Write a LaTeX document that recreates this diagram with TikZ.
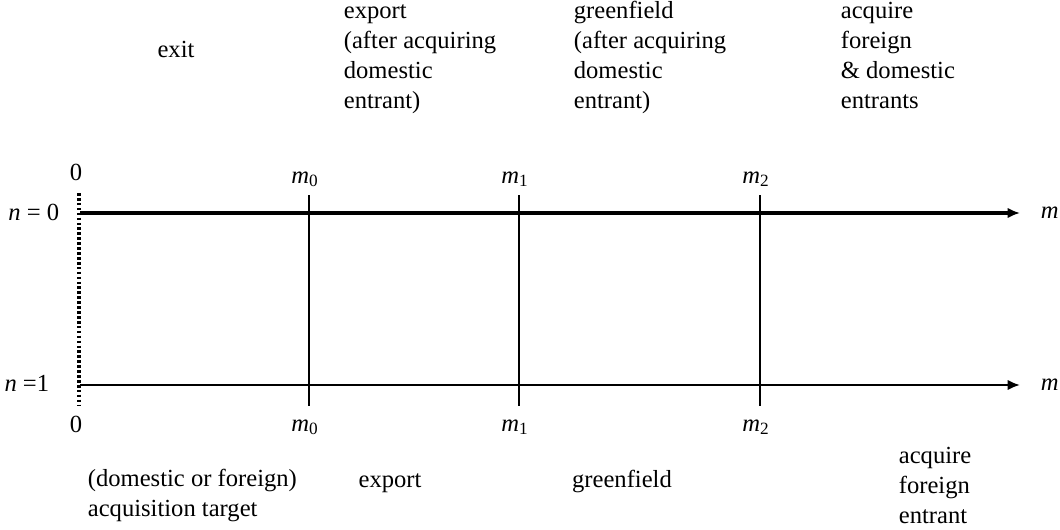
\documentclass[tikz,border=0pt]{standalone}
\usepackage{fontspec}
\setmainfont{Liberation Serif}
\usetikzlibrary{arrows.meta}
\tikzset{
  lab/.style={font=\fontsize{14}{17}\selectfont,inner sep=0pt},
  blk/.style={lab,align=left,anchor=base west},
  tip/.style={-{Latex[length=7pt,width=6pt]}}
}
\begin{document}
\begin{tikzpicture}[x=0.02cm,y=-0.02cm,line width=1pt]
  \useasboundingbox (0,0) rectangle (1060,529);
  % axes for n=0 and n=1
  \coordinate (a0) at (80,213); \coordinate (z0) at (1020,213);
  \coordinate (a1) at (80,385); \coordinate (z1) at (1020,385);
  \coordinate (dtop) at (79,193); \coordinate (dbot) at (79,406);
  \draw[line width=2pt,dash pattern=on 1.5pt off 1.3pt] (dtop) -- (dbot);
  \draw[line width=2.2pt,tip] (a0) -- (z0);
  \draw[line width=1.4pt,tip] (a1) -- (z1);
  \foreach \x/\k in {309/0,519/1,760/2} {
    \coordinate (u\k) at (\x,195); \coordinate (d\k) at (\x,406);
    \draw (u\k) -- (d\k);
    \node[lab,anchor=base] (mu\k) at (\x-4,183) {\textit{m}\textsubscript{\k}};
    \node[lab,anchor=base] (md\k) at (\x-4,431) {\textit{m}\textsubscript{\k}};
  }
  \node[lab,anchor=base] (zu) at (76,180) {0};
  \node[lab,anchor=base] (zd) at (76,432) {0};
  \node[lab,anchor=base east] (n0) at (60,220) {\textit{n} = 0};
  \node[lab,anchor=base east] (n1) at (50,391) {\textit{n} =1};
  \node[lab,anchor=base west] (m0) at (1040,218) {\textit{m}};
  \node[lab,anchor=base west] (m1) at (1040,390) {\textit{m}};
  % regions above (base = last line)
  \node[lab,anchor=base] (exit) at (176,57) {exit};
  \node[blk] (expu) at (343,108) {export\\(after acquiring\\domestic\\entrant)};
  \node[blk] (grnu) at (573,108) {greenfield\\(after acquiring\\domestic\\entrant)};
  \node[blk] (acqu) at (840,108) {acquire\\foreign\\\& domestic\\entrants};
  % regions below
  \node[blk] (tgt) at (87,516) {(domestic or foreign)\\acquisition target};
  \node[lab,anchor=base] (expd) at (390,487) {export};
  \node[lab,anchor=base] (grnd) at (622,487) {greenfield};
  \node[blk] (acqd) at (898,523) {acquire\\foreign\\entrant};
\end{tikzpicture}
\end{document}
